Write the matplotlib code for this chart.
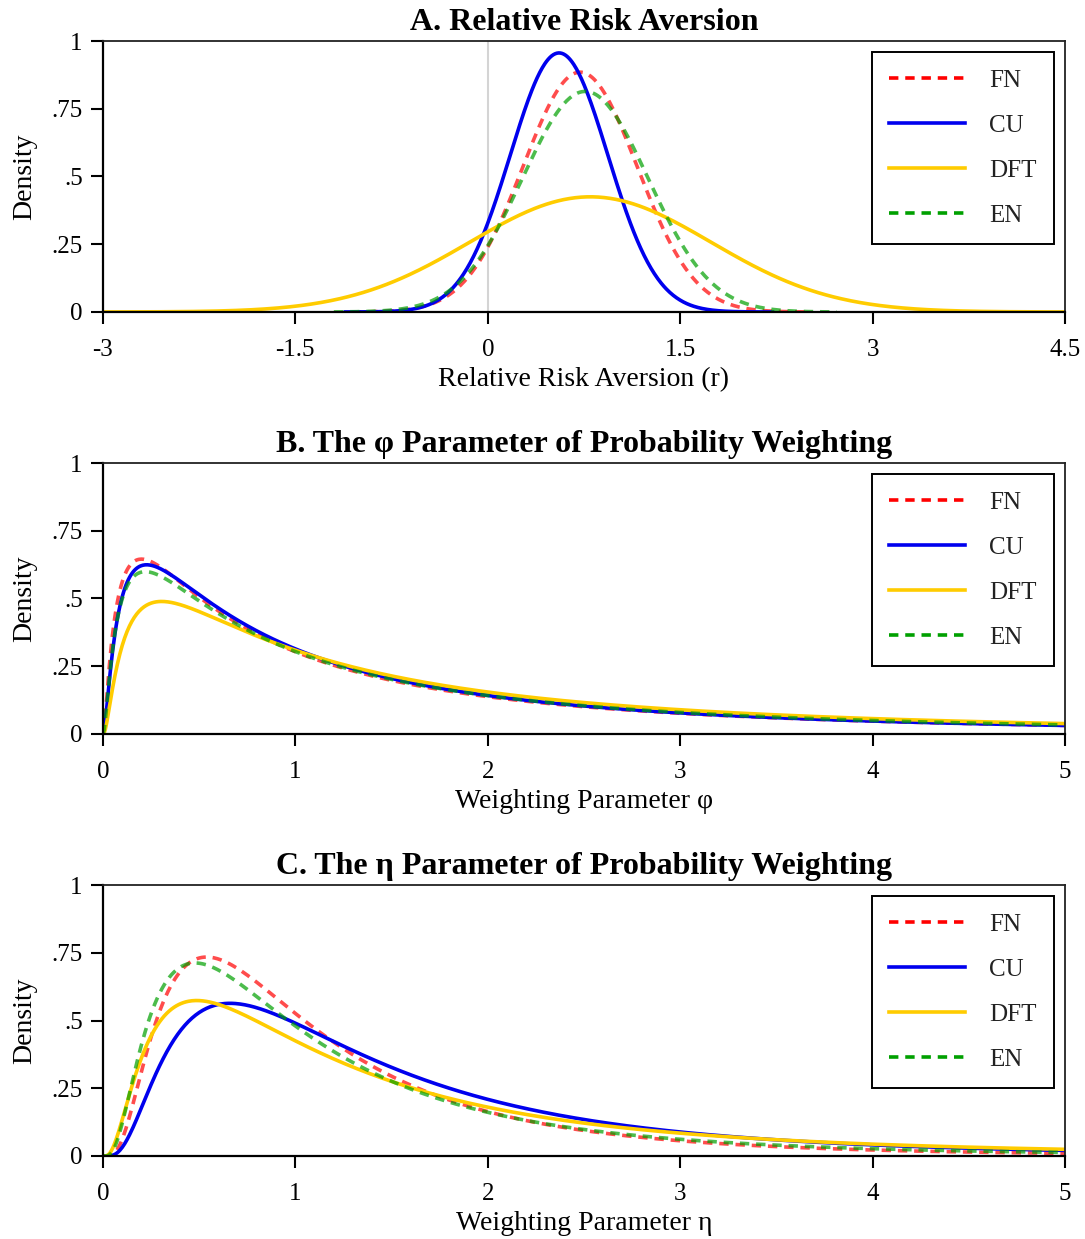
import numpy as np
import matplotlib
matplotlib.use("Agg")
import matplotlib.pyplot as plt
from matplotlib.lines import Line2D

# ===== Data =====
MODELS = ["FN", "CU", "DFT", "EN"]

# Panel A: bell-shaped densities of relative risk aversion (mode, height, spread)
RRA_MODE = [0.72, 0.556, 0.80, 0.76]
RRA_PEAK = [0.885, 0.956, 0.425, 0.814]
RRA_SPREAD = [0.445, 0.38, 0.94, 0.49]
RRA_LO = [-1.06, -1.11, -3.0, -1.2]
RRA_HI = [2.50, 2.22, 4.5, 2.72]

# Panels B and C: log-normal densities (mu, sigma of log)
PHI_MU = [0.107, 0.117, 0.350, 0.176]
PHI_SIGMA = [1.31, 1.265, 1.24, 1.30]
ETA_MU = [-0.045, 0.204, 0.142, -0.049]
ETA_SIGMA = [0.757, 0.787, 0.928, 0.83]

Y_TICKS = [0, 0.25, 0.5, 0.75, 1]
Y_TICK_LABELS = ["0", ".25", ".5", ".75", "1"]
RRA_TICKS = [-3, -1.5, 0, 1.5, 3, 4.5]
RRA_TICK_LABELS = ["-3", "-1.5", "0", "1.5", "3", "4.5"]
W_TICKS = [0, 1, 2, 3, 4, 5]

# ===== Styles =====
COLORS = ["#ff0000", "#0000ee", "#ffcc00", "#00a000"]
LINE_ALPHA = [0.7, 1.0, 1.0, 0.7]
DASH = (0, (2.6, 1.9))
LSTYLES = [DASH, "-", "-", DASH]
LW = 2.6

plt.rcParams["font.family"] = ["Liberation Serif", "DejaVu Serif"]


def lognormal_pdf(x, mu, sigma):
    return np.exp(-(np.log(x) - mu) ** 2 / (2 * sigma ** 2)) / (x * sigma * np.sqrt(2 * np.pi))


def style_axes(ax, title, xlabel, xlim, xticks, xticklabels):
    ax.set_xlim(xlim)
    ax.set_ylim(0, 1)
    ax.set_xticks(xticks)
    ax.set_xticklabels(xticklabels)
    ax.set_yticks(Y_TICKS)
    ax.set_yticklabels(Y_TICK_LABELS)
    ax.tick_params(direction="out", length=8.5, width=1.5, labelsize=18)
    ax.tick_params(axis="x", pad=11)
    ax.tick_params(axis="y", pad=6)
    for side in ["left", "bottom"]:
        ax.spines[side].set_linewidth(1.6)
    for side in ["top", "right"]:
        ax.spines[side].set_linewidth(1.3)
        ax.spines[side].set_color("#222222")
    ax.set_title(title, fontsize=23, fontweight="bold", pad=8)
    ax.set_xlabel(xlabel, fontsize=20, labelpad=4)
    ax.set_ylabel("Density", fontsize=20, labelpad=10)

    handles = [Line2D([0], [0], color=c, lw=LW, linestyle=ls)
               for c, ls in zip(COLORS, LSTYLES)]
    leg = ax.legend(handles, MODELS, loc="upper right", fontsize=18,
                    handlelength=3.05, handletextpad=0.96, labelspacing=0.9,
                    borderpad=0.7, borderaxespad=0.42, fancybox=False,
                    framealpha=1, edgecolor="black")
    leg.get_frame().set_linewidth(1.4)
    for t in leg.get_texts():
        t.set_color("#222222")


# ===== Figure =====
fig = plt.figure(figsize=(10.85, 12.39), dpi=100)
left, width, height = 0.0949, 0.8866, 0.2187
ax_a = fig.add_axes([left, 0.7482, width, height])
ax_b = fig.add_axes([left, 0.4076, width, height])
ax_c = fig.add_axes([left, 0.0670, width, height])

# Panel A
ax_a.axvline(0, color="#d4d4d4", lw=1.5, zorder=0)
for i in range(len(MODELS)):
    x = np.linspace(RRA_LO[i], RRA_HI[i], 500)
    y = RRA_PEAK[i] * np.exp(-0.5 * ((x - RRA_MODE[i]) / RRA_SPREAD[i]) ** 2)
    ax_a.plot(x, y, color=COLORS[i], alpha=LINE_ALPHA[i], lw=LW, linestyle=LSTYLES[i])
style_axes(ax_a, "A. Relative Risk Aversion", "Relative Risk Aversion (r)",
           (-3, 4.5), RRA_TICKS, RRA_TICK_LABELS)

# Panels B and C
xw = np.linspace(1e-4, 5, 800)
for ax, mus, sigmas in [(ax_b, PHI_MU, PHI_SIGMA), (ax_c, ETA_MU, ETA_SIGMA)]:
    for i in range(len(MODELS)):
        y = lognormal_pdf(xw, mus[i], sigmas[i])
        ax.plot(np.r_[0, xw], np.r_[0, y], color=COLORS[i], alpha=LINE_ALPHA[i],
                lw=LW, linestyle=LSTYLES[i])

style_axes(ax_b, "B. The φ Parameter of Probability Weighting", "Weighting Parameter φ",
           (0, 5), W_TICKS, [str(t) for t in W_TICKS])
style_axes(ax_c, "C. The η Parameter of Probability Weighting", "Weighting Parameter η",
           (0, 5), W_TICKS, [str(t) for t in W_TICKS])

fig.savefig("out.png", dpi=100)
